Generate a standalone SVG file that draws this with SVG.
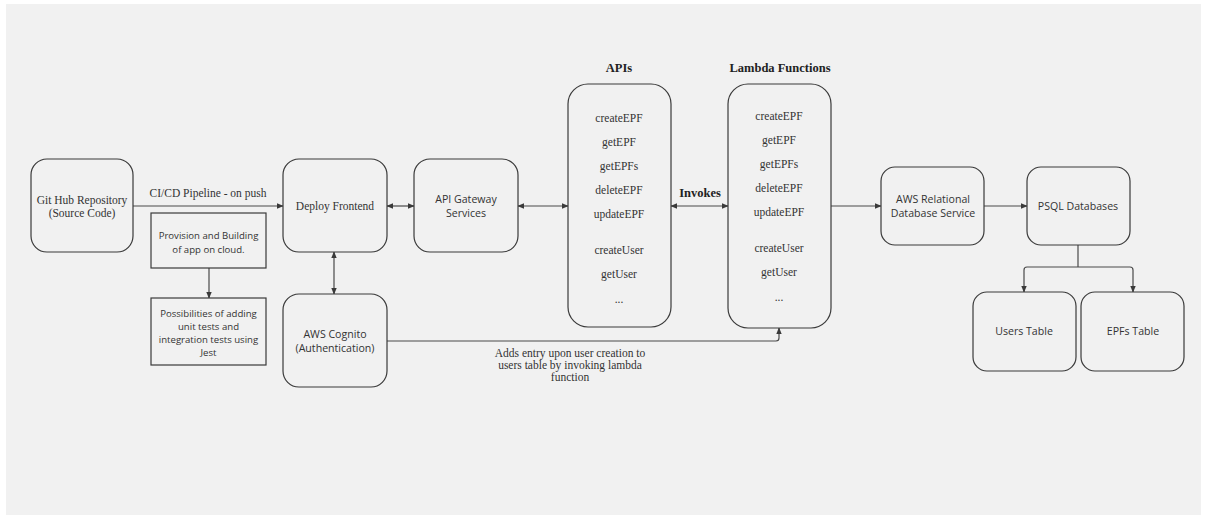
<svg xmlns="http://www.w3.org/2000/svg" width="1207" height="520" viewBox="0 0 1207 520">
<defs>
<marker id="ah" viewBox="0 0 10 10" refX="9" refY="5" markerWidth="7" markerHeight="7" orient="auto-start-reverse" markerUnits="userSpaceOnUse">
<path d="M0,1 L10,5 L0,9 z" fill="#3a3a3a"/>
</marker>
<style>
.n{fill:#f1f1f1;stroke:#3a3a3a;stroke-width:1.2}
.c{fill:none;stroke:#4a4a4a;stroke-width:1.2}
.s{font-family:"Liberation Serif",serif;font-size:11.5px;fill:#333;text-anchor:middle;dominant-baseline:central}
.a{font-family:"Open Sans",sans-serif;font-size:10.6px;fill:#333;text-anchor:middle;dominant-baseline:central}
.q{font-family:"Open Sans",sans-serif;font-size:9.6px;fill:#333;text-anchor:middle;dominant-baseline:central}
.b{font-family:"Liberation Serif",serif;font-size:12.5px;font-weight:bold;fill:#222;text-anchor:middle;dominant-baseline:central}
</style>
</defs>
<rect x="0" y="0" width="1207" height="520" fill="#ffffff"/>
<rect x="6" y="4" width="1195" height="511" fill="#f1f1f1"/>

<g id="connectors">
<line class="c" x1="133" y1="206" x2="283" y2="206" marker-end="url(#ah)"/>
<line class="c" x1="209" y1="268" x2="209" y2="298" marker-end="url(#ah)"/>
<line class="c" x1="387" y1="206" x2="414" y2="206" marker-start="url(#ah)" marker-end="url(#ah)"/>
<line class="c" x1="334" y1="252" x2="334" y2="294" marker-start="url(#ah)" marker-end="url(#ah)"/>
<line class="c" x1="518" y1="206" x2="568" y2="206" marker-start="url(#ah)" marker-end="url(#ah)"/>
<line class="c" x1="671" y1="206" x2="728" y2="206" marker-start="url(#ah)" marker-end="url(#ah)"/>
<line class="c" x1="831" y1="206" x2="881" y2="206" marker-end="url(#ah)"/>
<line class="c" x1="984" y1="206" x2="1027" y2="206" marker-end="url(#ah)"/>
<path class="c" d="M387,341 L776,341 Q779,341 779,338 L779,328" marker-end="url(#ah)"/>
<path class="c" d="M1078,245 L1078,267"/>
<path class="c" d="M1078,267 L1027,267 Q1024,267 1024,270 L1024,292" marker-end="url(#ah)"/>
<path class="c" d="M1078,267 L1130,267 Q1133,267 1133,270 L1133,292" marker-end="url(#ah)"/>
<text class="s" x="208" y="193">CI/CD Pipeline - on push</text>
<text class="b" x="700" y="193">Invokes</text>
<text class="s" x="570" y="353">Adds entry upon user creation to</text>
<text class="s" x="570" y="365">users table by invoking lambda</text>
<text class="s" x="570" y="377">function</text>
</g>

<g id="github">
<rect class="n" x="31" y="159" width="102" height="93" rx="16"/>
<text class="s" x="82" y="200">Git Hub Repository</text>
<text class="s" x="82" y="213">(Source Code)</text>
</g>

<g id="provision">
<rect class="n" x="151" y="213" width="115" height="55"/>
<text class="q" x="208.5" y="235">Provision and Building</text>
<text class="q" x="208.5" y="249">of app on cloud.</text>
</g>

<g id="possibilities">
<rect class="n" x="151" y="298" width="115" height="67"/>
<text class="q" x="208.5" y="313">Possibilities of adding</text>
<text class="q" x="208.5" y="326">unit tests and</text>
<text class="q" x="208.5" y="339">integration tests using</text>
<text class="q" x="208.5" y="352">Jest</text>
</g>

<g id="deploy">
<rect class="n" x="283" y="159" width="104" height="93" rx="16"/>
<text class="s" x="335" y="206">Deploy Frontend</text>
</g>

<g id="cognito">
<rect class="n" x="283" y="294" width="104" height="93" rx="16"/>
<text class="a" x="335" y="334">AWS Cognito</text>
<text class="a" x="335" y="348">(Authentication)</text>
</g>

<g id="apigateway">
<rect class="n" x="414" y="159" width="104" height="93" rx="16"/>
<text class="a" x="466" y="199">API Gateway</text>
<text class="a" x="466" y="213">Services</text>
</g>

<g id="apis">
<text class="b" x="619" y="68">APIs</text>
<rect class="n" x="568" y="84" width="103" height="243" rx="20"/>
<text class="s" x="619" y="118">createEPF</text>
<text class="s" x="619" y="142">getEPF</text>
<text class="s" x="619" y="166">getEPFs</text>
<text class="s" x="619" y="190">deleteEPF</text>
<text class="s" x="619" y="214">updateEPF</text>
<text class="s" x="619" y="250">createUser</text>
<text class="s" x="619" y="274">getUser</text>
<text class="s" x="619" y="299">...</text>
</g>

<g id="lambda">
<text class="b" x="780" y="68">Lambda Functions</text>
<rect class="n" x="728" y="84" width="103" height="244" rx="20"/>
<text class="s" x="779" y="116">createEPF</text>
<text class="s" x="779" y="140">getEPF</text>
<text class="s" x="779" y="164">getEPFs</text>
<text class="s" x="779" y="188">deleteEPF</text>
<text class="s" x="779" y="212">updateEPF</text>
<text class="s" x="779" y="248">createUser</text>
<text class="s" x="779" y="272">getUser</text>
<text class="s" x="779" y="297">...</text>
</g>

<g id="rds">
<rect class="n" x="881" y="167" width="103" height="78" rx="14"/>
<text class="a" x="933" y="199">AWS Relational</text>
<text class="a" x="933" y="213">Database Service</text>
</g>

<g id="psql">
<rect class="n" x="1027" y="167" width="103" height="78" rx="14"/>
<text class="a" x="1078" y="206">PSQL Databases</text>
</g>

<g id="users">
<rect class="n" x="973" y="292" width="103" height="79" rx="14"/>
<text class="a" x="1024" y="331">Users Table</text>
</g>

<g id="epfs">
<rect class="n" x="1081" y="292" width="103" height="79" rx="14"/>
<text class="a" x="1133" y="331">EPFs Table</text>
</g>
</svg>
